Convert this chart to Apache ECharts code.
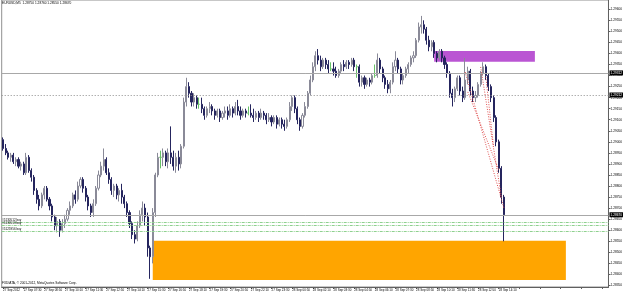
<!DOCTYPE html>
<html><head><meta charset="utf-8">
<script src="https://cdn.jsdelivr.net/npm/echarts@6/dist/echarts.min.js"></script>
<style>html,body{margin:0;padding:0;background:#fff}#c{width:625px;height:293px}</style>
</head><body><div id="c"></div><script>
const chartTitle = 'EURUSD,M5  1.28750 1.28760 1.28550 1.28670';
const copyright = 'FXDIATA, \u00a9 2001-2012, MetaQuotes Software Corp.';
const tickLabels = ["27 Sep 2012","27 Sep 07:30","27 Sep 08:50","27 Sep 10:10","27 Sep 11:30","27 Sep 12:50","27 Sep 14:10","27 Sep 15:30","27 Sep 16:50","27 Sep 18:10","27 Sep 19:30","27 Sep 20:50","27 Sep 22:10","27 Sep 23:30","28 Sep 00:50","28 Sep 02:10","28 Sep 03:30","28 Sep 04:50","28 Sep 06:10","28 Sep 07:30","28 Sep 08:50","28 Sep 10:10","28 Sep 11:30","28 Sep 12:50","28 Sep 14:10"];
const priceTicks = [1.2835,1.2840,1.2845,1.2850,1.2855,1.2860,1.2865,1.2870,1.2875,1.2880,1.2885,1.2890,1.2895,1.2900,1.2905,1.2910,1.2915,1.2920,1.2925,1.2930,1.2935,1.2940,1.2945,1.2950,1.2955,1.2960];
// [open, close, low, high], 10-minute candles from 27 Sep 06:10
const ohlc = [
[1.2901,1.2897,1.2896,1.2902],[1.2897,1.2895,1.2894,1.2899],[1.2895,1.2893,1.2892,1.2896],[1.2893,1.2894,1.2891,1.2895],
[1.2894,1.2891,1.2890,1.2895],[1.2891,1.2892,1.2889,1.2893],[1.2892,1.2889,1.2888,1.2893],[1.2889,1.2890,1.2887,1.2891],
[1.2890,1.2886,1.2885,1.2891],[1.2886,1.2893,1.2885,1.2895],[1.2893,1.2887,1.2886,1.2894],[1.2887,1.2884,1.2882,1.2888],
[1.2884,1.2878,1.2876,1.2885],[1.2878,1.2874,1.2872,1.2879],[1.2874,1.2871,1.2869,1.2876],[1.2871,1.2876,1.2870,1.2877],
[1.2876,1.2879,1.2874,1.2880],[1.2879,1.2874,1.2873,1.2880],[1.2874,1.2871,1.2869,1.2875],[1.2871,1.2866,1.2864,1.2872],
[1.2866,1.2862,1.2860,1.2867],[1.2862,1.2864,1.2859,1.2866],[1.2864,1.2860,1.2857,1.2865],[1.2860,1.2863,1.2859,1.2865],
[1.2863,1.2865,1.2861,1.2867],[1.2865,1.2869,1.2864,1.2870],[1.2869,1.2871,1.2867,1.2873],[1.2871,1.2876,1.2870,1.2877],
[1.2876,1.2874,1.2872,1.2878],[1.2874,1.2880,1.2873,1.2882],[1.2880,1.2883,1.2879,1.2884],[1.2883,1.2879,1.2877,1.2884],
[1.2879,1.2875,1.2873,1.2880],[1.2875,1.2871,1.2869,1.2876],[1.2871,1.2868,1.2866,1.2872],[1.2868,1.2872,1.2866,1.2874],
[1.2872,1.2879,1.2871,1.2880],[1.2879,1.2885,1.2878,1.2887],[1.2885,1.2889,1.2884,1.2891],[1.2889,1.2892,1.2887,1.2897],
[1.2892,1.2886,1.2885,1.2893],[1.2886,1.2883,1.2881,1.2888],[1.2883,1.2878,1.2876,1.2884],[1.2878,1.2880,1.2875,1.2881],
[1.2880,1.2876,1.2874,1.2881],[1.2876,1.2878,1.2873,1.2879],[1.2878,1.2875,1.2872,1.2881],[1.2875,1.2872,1.2870,1.2876],
[1.2872,1.2868,1.2866,1.2873],[1.2868,1.2863,1.2861,1.2869],[1.2863,1.2858,1.2856,1.2864],[1.2858,1.2856,1.2854,1.2860],
[1.2856,1.2862,1.2855,1.2864],[1.2862,1.2867,1.2861,1.2869],[1.2867,1.2870,1.2864,1.2873],[1.2870,1.2866,1.2862,1.2872],
[1.2866,1.2852,1.2848,1.2868],[1.2852,1.2848,1.2838,1.2853],[1.2848,1.2868,1.2845,1.2870],[1.2868,1.2885,1.2866,1.2886],
[1.2885,1.2893,1.2884,1.2895],[1.2893,1.2893,1.2888,1.2896],[1.2893,1.2895,1.2889,1.2897],[1.2895,1.2891,1.2889,1.2896],
[1.2891,1.2895,1.2888,1.2897],[1.2895,1.2893,1.2890,1.2907],[1.2893,1.2889,1.2887,1.2896],[1.2889,1.2893,1.2886,1.2895],
[1.2893,1.2890,1.2887,1.2896],[1.2890,1.2898,1.2888,1.2899],[1.2898,1.2918,1.2897,1.2920],[1.2918,1.2925,1.2916,1.2929],
[1.2925,1.2922,1.2920,1.2927],[1.2922,1.2918,1.2916,1.2923],[1.2918,1.2920,1.2916,1.2922],[1.2920,1.2917,1.2915,1.2921],
[1.2917,1.2917,1.2915,1.2920],[1.2917,1.2915,1.2913,1.2920],[1.2915,1.2912,1.2910,1.2916],[1.2912,1.2915,1.2911,1.2916],
[1.2915,1.2916,1.2913,1.2918],[1.2916,1.2914,1.2912,1.2917],[1.2914,1.2912,1.2910,1.2915],[1.2912,1.2914,1.2911,1.2915],
[1.2914,1.2911,1.2909,1.2915],[1.2911,1.2913,1.2910,1.2914],[1.2913,1.2914,1.2911,1.2916],[1.2914,1.2912,1.2910,1.2916],
[1.2912,1.2915,1.2911,1.2917],[1.2915,1.2913,1.2911,1.2916],[1.2913,1.2916,1.2912,1.2918],[1.2916,1.2914,1.2912,1.2919],
[1.2914,1.2912,1.2910,1.2916],[1.2912,1.2914,1.2911,1.2915],[1.2914,1.2913,1.2911,1.2915],[1.2913,1.2913,1.2912,1.2916],
[1.2913,1.2912,1.2911,1.2917],[1.2912,1.2911,1.2909,1.2915],[1.2911,1.2913,1.2910,1.2914],[1.2913,1.2911,1.2909,1.2914],
[1.2911,1.2913,1.2910,1.2915],[1.2913,1.2912,1.2910,1.2914],[1.2912,1.2910,1.2908,1.2913],[1.2910,1.2911,1.2909,1.2913],
[1.2911,1.2909,1.2907,1.2912],[1.2909,1.2911,1.2908,1.2912],[1.2911,1.2908,1.2906,1.2912],[1.2908,1.2910,1.2907,1.2911],
[1.2910,1.2908,1.2906,1.2911],[1.2908,1.2907,1.2905,1.2910],[1.2907,1.2910,1.2906,1.2911],[1.2910,1.2916,1.2909,1.2918],
[1.2916,1.2920,1.2914,1.2921],[1.2920,1.2915,1.2913,1.2921],[1.2915,1.2910,1.2908,1.2916],[1.2910,1.2907,1.2905,1.2911],
[1.2907,1.2912,1.2906,1.2913],[1.2912,1.2916,1.2911,1.2918],[1.2916,1.2922,1.2915,1.2923],[1.2922,1.2928,1.2921,1.2930],
[1.2928,1.2934,1.2927,1.2936],[1.2934,1.2939,1.2932,1.2941],[1.2939,1.2937,1.2935,1.2942],[1.2937,1.2934,1.2932,1.2939],
[1.2934,1.2937,1.2933,1.2938],[1.2937,1.2935,1.2933,1.2938],[1.2935,1.2933,1.2931,1.2937],[1.2933,1.2933,1.2932,1.2936],
[1.2933,1.2932,1.2930,1.2936],[1.2932,1.2930,1.2929,1.2934],[1.2930,1.2932,1.2929,1.2933],[1.2932,1.2935,1.2931,1.2936],
[1.2935,1.2934,1.2932,1.2937],[1.2934,1.2936,1.2933,1.2937],[1.2936,1.2935,1.2933,1.2937],[1.2935,1.2937,1.2934,1.2938],
[1.2937,1.2934,1.2932,1.2938],[1.2934,1.2934,1.2929,1.2935],[1.2934,1.2927,1.2925,1.2935],[1.2927,1.2929,1.2925,1.2930],
[1.2929,1.2926,1.2924,1.2930],[1.2926,1.2928,1.2925,1.2929],[1.2928,1.2927,1.2925,1.2929],[1.2927,1.2930,1.2926,1.2931],
[1.2930,1.2930,1.2929,1.2935],[1.2930,1.2937,1.2929,1.2940],[1.2937,1.2933,1.2931,1.2938],[1.2933,1.2929,1.2927,1.2934],
[1.2929,1.2926,1.2924,1.2930],[1.2926,1.2924,1.2922,1.2928],[1.2924,1.2927,1.2922,1.2928],[1.2927,1.2934,1.2926,1.2936],
[1.2934,1.2937,1.2932,1.2941],[1.2937,1.2933,1.2931,1.2938],[1.2933,1.2928,1.2926,1.2934],[1.2928,1.2930,1.2926,1.2931],
[1.2930,1.2933,1.2929,1.2934],[1.2933,1.2935,1.2931,1.2936],[1.2935,1.2938,1.2934,1.2939],[1.2938,1.2939,1.2936,1.2941],
[1.2939,1.2946,1.2938,1.2947],[1.2946,1.2952,1.2945,1.2954],[1.2952,1.2953,1.2949,1.2957],[1.2953,1.2951,1.2949,1.2955],
[1.2951,1.2946,1.2944,1.2952],[1.2946,1.2943,1.2941,1.2948],[1.2943,1.2945,1.2941,1.2946],[1.2945,1.2940,1.2938,1.2946],
[1.2940,1.2938,1.2936,1.2941],[1.2938,1.2941,1.2937,1.2942],[1.2941,1.2938,1.2936,1.2942],[1.2938,1.2935,1.2933,1.2939],
[1.2935,1.2931,1.2929,1.2936],[1.2931,1.2922,1.2920,1.2932],[1.2922,1.2920,1.2916,1.2924],[1.2920,1.2924,1.2918,1.2925],
[1.2924,1.2929,1.2923,1.2930],[1.2929,1.2923,1.2921,1.2930],[1.2923,1.2920,1.2918,1.2925],[1.2920,1.2928,1.2919,1.2938],
[1.2928,1.2932,1.2926,1.2934],[1.2932,1.2923,1.2921,1.2933],[1.2923,1.2920,1.2918,1.2925],[1.2920,1.2921,1.2918,1.2923],
[1.2921,1.2926,1.2920,1.2927],[1.2926,1.2931,1.2925,1.2932],[1.2931,1.2934,1.2930,1.2936],[1.2934,1.2930,1.2928,1.2935],
[1.2930,1.2925,1.2923,1.2931],[1.2925,1.2920,1.2918,1.2926],[1.2920,1.2911,1.2909,1.2921],[1.2911,1.2900,1.2898,1.2912],
[1.2900,1.2888,1.2886,1.2901],[1.2888,1.2875,1.2872,1.2889],[1.2875,1.2867,1.2855,1.2876]
];
// horizontal objects: price, style
const hLines = [
  {price: 1.29312, type: 'solid', color: '#a8a8a8'},
  {price: 1.29212, type: [1, 2], color: '#8c8c8c'},
  {price: 1.28670, type: 'solid', color: '#a8a8a8'}
];
const orderLines = [
  {price: 1.28638, label: '#5130512 buy'},
  {price: 1.28624, label: '#5130513 buy'},
  {price: 1.28597, label: '#5125956 buy'}
];
// rectangles: [startCandle, topPrice, endCandle, bottomPrice, colour]
const zones = [
  [167, 1.29411, 206, 1.29362, '#BA55D3'],
  [58, 1.28552, 218, 1.28375, '#FFA500']
];
// trade history lines: [openCandle, openPrice, closeCandle, closePrice]
const tradeLines = [
  [179, 1.29316, 194, 1.28701],
  [180, 1.29226, 192, 1.28873],
  [185, 1.29339, 193, 1.28751],
  [187, 1.29294, 190, 1.28977]
];

const nCats = 235;
const monthName = 'Sep';
const categories = [];
for (let i = 0; i < nCats; i++) {
  const t = 6 * 60 + 10 + i * 10;
  const day = 27 + Math.floor(t / 1440);
  const m = t % 1440;
  categories.push(day + ' ' + monthName + ' ' + String(Math.floor(m / 60)).padStart(2, '0') + ':' + String(m % 60).padStart(2, '0'));
}

const FONT = 'Liberation Sans';
const chart = echarts.init(document.getElementById('c'), null, {renderer: 'canvas'});
chart.setOption({
  animation: false,
  backgroundColor: '#ffffff',
  grid: {left: 1, right: 13, top: 0, bottom: 6, show: true, borderColor: '#909090', borderWidth: 1, backgroundColor: 'transparent'},
  graphic: [
    {type: 'text', left: 2, top: 2, silent: true, style: {text: chartTitle, fontSize: 3.2, fontFamily: FONT, fill: '#000'}},
    {type: 'text', left: 2, top: 282, silent: true, style: {text: copyright, fontSize: 3.2, fontFamily: FONT, fill: '#000'}}
  ],
  xAxis: {
    type: 'category', data: categories, boundaryGap: true,
    axisLine: {show: true, lineStyle: {color: '#606060', width: 1}},
    axisTick: {show: true, interval: 7, alignWithLabel: true, length: 2, lineStyle: {color: '#606060'}},
    axisLabel: {interval: 7, fontSize: 3, fontFamily: FONT, color: '#000', margin: 2, align: 'left',
      formatter: (v, idx) => tickLabels[idx / 8] || ''},
    splitLine: {show: false}
  },
  yAxis: {
    type: 'value', position: 'right', min: 1.28343, max: 1.29642, scale: true,
    axisLine: {show: true, lineStyle: {color: '#606060', width: 1}},
    axisTick: {show: true, length: 2, customValues: priceTicks, lineStyle: {color: '#606060'}},
    axisLabel: {customValues: priceTicks, fontSize: 3.2, fontFamily: FONT, color: '#000', margin: 2,
      formatter: v => v.toFixed(5)},
    splitLine: {show: false}
  },
  series: [
    {
      type: 'line', data: [], z: 1, silent: true,
      markArea: {silent: true, data: zones.map(z => [
        {coord: [z[0], z[1]], itemStyle: {color: z[4], opacity: 1}},
        {coord: [z[2], z[3]]}
      ])}
    },
    {
      type: 'candlestick', data: ohlc, z: 3, barWidth: 1.6, silent: true,
      itemStyle: {color: '#ffffff', color0: '#25255e', borderColor: '#8a8a98', borderColor0: '#25255e', borderColorDoji: '#66c266', borderWidth: 1},
      markLine: {
        silent: true, symbol: ['none', 'none'], animation: false, precision: 5,
        data: [
          ...hLines.map(h => ({yAxis: h.price, lineStyle: {type: h.type, color: h.color, width: 1},
            label: {show: true, position: 'end', distance: 1, formatter: () => h.price.toFixed(5), color: '#fff', backgroundColor: '#000', fontSize: 3.2, fontFamily: FONT, padding: [1, 1, 1, 1]}})),
          ...orderLines.map(o => ({yAxis: o.price, lineStyle: {type: [3, 1, 1, 1], color: '#8fd08f', width: 1},
            label: {show: true, position: 'insideStartTop', distance: 0.5, formatter: () => o.label, color: '#000', fontSize: 3, fontFamily: FONT}})),
          ...tradeLines.map(t => [
            {coord: [t[0], t[1]], lineStyle: {type: [1, 1.5], color: '#e05050', width: 1}, label: {show: false}},
            {coord: [t[2], t[3]]}
          ])
        ]
      }
    }
  ]
});
</script></body></html>
